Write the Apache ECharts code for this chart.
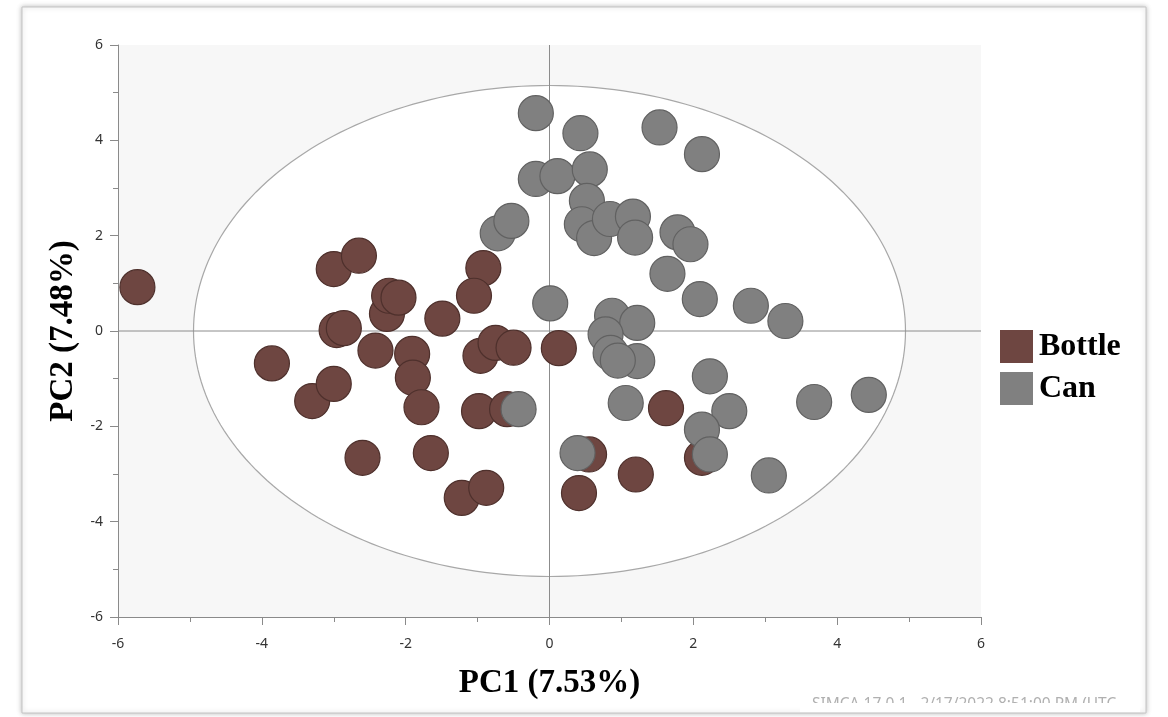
<!DOCTYPE html>
<html>
<head>
<meta charset="utf-8">
<title>PCA score plot – Bottle vs Can</title>
<script src="https://cdn.jsdelivr.net/npm/echarts@6/dist/echarts.min.js"></script>
<style>
  html, body { margin: 0; padding: 0; background: #ffffff; }
  #chart { width: 1168px; height: 717px; }
</style>
</head>
<body>
<div id="chart"></div>
<script>
// PCA scores (PC1, PC2) per sample group
const bottleX = [-5.73, -3.86, -3.30, -3.00, -3.00, -2.65, -2.96, -2.86, -2.60, -2.42, -2.26, -2.23, -2.10,
                 -1.91, -1.90, -1.78, -1.65, -1.49, -1.22, -0.92, -1.05, -0.88, -0.98, -0.59, -0.96, -0.75,
                 -0.50, 0.13, 0.55, 0.41, 1.62, 1.20, 2.12];
const bottleY = [0.92, -0.68, -1.47, -1.11, 1.30, 1.58, 0.02, 0.06, -2.66, -0.41, 0.36, 0.74, 0.70,
                 -0.48, -0.98, -1.60, -2.56, 0.26, -3.50, 1.32, 0.74, -3.29, -1.68, -1.64, -0.52, -0.25,
                 -0.35, -0.36, -2.59, -3.40, -1.62, -3.01, -2.66];

const canX = [-0.19, 0.43, 1.53, 2.12, -0.19, 0.11, 0.56, 0.52, -0.72, -0.53, 0.45, 0.62, 0.84, 1.16,
              1.19, 1.78, 1.96, 1.64, 2.09, 2.80, 3.28, 0.01, 0.87, 1.22, 0.78, 0.85, 1.22, 0.95,
              2.23, 1.06, 2.50, 2.12, 2.23, 3.05, 3.68, 4.44, 0.39, -0.43];
const canY = [4.57, 4.15, 4.27, 3.71, 3.19, 3.25, 3.39, 2.73, 2.05, 2.31, 2.24, 1.95, 2.35, 2.40,
              1.96, 2.07, 1.82, 1.20, 0.67, 0.53, 0.21, 0.58, 0.32, 0.17, -0.07, -0.46, -0.63, -0.62,
              -0.95, -1.51, -1.68, -2.07, -2.59, -3.03, -1.49, -1.34, -2.56, -1.64];

const groupNames = ['Bottle', 'Can'];
const axisTitles = ['PC1 (7.53%)', 'PC2 (7.48%)'];
// Hotelling T2 (95%) ellipse semi-axes in score units
const ellipseRadii = [4.95, 5.15];
const axisRange = [-6, 6];
const footerText = 'SIMCA 17.0.1 - 2/17/2022 8:51:00 PM (UTC-';

const zip = (xs, ys) => xs.map((x, i) => [x, ys[i]]);

const chart = echarts.init(document.getElementById('chart'), null, { renderer: 'canvas' });

const tickLabelStyle = { color: '#333333', fontSize: 14, fontFamily: 'Noto Sans, DejaVu Sans, sans-serif' };
const titleStyle = { color: '#000000', fontSize: 33, fontWeight: 'bold', fontFamily: 'Liberation Serif, Times New Roman, serif' };

function valueAxis(title, nameGap, labelMargin) {
  return {
    type: 'value',
    min: axisRange[0],
    max: axisRange[1],
    interval: 2,
    name: title,
    nameLocation: 'middle',
    nameGap: nameGap,
    nameTextStyle: titleStyle,
    axisLine: { show: true, onZero: false, lineStyle: { color: '#8a8a8a', width: 1 } },
    axisTick: { show: true, length: 8, lineStyle: { color: '#8a8a8a' } },
    minorTick: { show: true, splitNumber: 2, length: 5, lineStyle: { color: '#8a8a8a' } },
    axisLabel: Object.assign({ margin: labelMargin }, tickLabelStyle),
    splitLine: { show: false }
  };
}

// Confidence ellipse plus the two zero lines, drawn behind the scores
function renderBackdrop(params, api) {
  const pts = [];
  for (let k = 0; k < 240; k++) {
    const t = (k / 240) * Math.PI * 2;
    pts.push(api.coord([ellipseRadii[0] * Math.cos(t), ellipseRadii[1] * Math.sin(t)]));
  }
  const h0 = api.coord([axisRange[0], 0]), h1 = api.coord([axisRange[1], 0]);
  const v0 = api.coord([0, axisRange[0]]), v1 = api.coord([0, axisRange[1]]);
  return {
    type: 'group',
    children: [
      { type: 'polygon', shape: { points: pts }, style: { fill: '#ffffff', stroke: '#a8a8a8', lineWidth: 1.2 } },
      { type: 'line', shape: { x1: h0[0], y1: h0[1], x2: h1[0], y2: h1[1] }, style: { stroke: '#8c8c8c', lineWidth: 1 } },
      { type: 'line', shape: { x1: v0[0], y1: v0[1], x2: v1[0], y2: v1[1] }, style: { stroke: '#8c8c8c', lineWidth: 1 } }
    ]
  };
}

const option = {
  animation: false,
  backgroundColor: '#ffffff',
  grid: {
    left: 118, right: 187, top: 45, bottom: 100,
    show: true, backgroundColor: '#f7f7f7', borderWidth: 0
  },
  xAxis: valueAxis(axisTitles[0], 50, 20),
  yAxis: valueAxis(axisTitles[1], 33, 15),
  legend: {
    orient: 'vertical',
    left: 995, top: 325,
    itemWidth: 33, itemHeight: 33, itemGap: 9,
    icon: 'rect',
    itemStyle: { borderWidth: 0 },
    textStyle: { color: '#000000', fontSize: 32, fontWeight: 'bold', fontFamily: 'Liberation Serif, Times New Roman, serif', padding: [0, 0, 0, 1] },
    data: groupNames
  },
  graphic: [
    {
      type: 'rect', z: -10, silent: true,
      shape: { x: 22, y: 7, width: 1124, height: 706 },
      style: { fill: '#ffffff', stroke: '#c4c4c4', lineWidth: 1, shadowBlur: 5, shadowColor: 'rgba(0,0,0,0.25)' }
    },
    {
      type: 'text', left: 812, top: 697, z: 5, silent: true,
      style: { text: footerText, fill: '#b0b0b0', fontSize: 15.5, fontFamily: 'Noto Sans, DejaVu Sans, sans-serif' }
    },
    {
      type: 'rect', z: 6, silent: true,
      shape: { x: 800, y: 703, width: 340, height: 9 },
      style: { fill: '#ffffff' }
    }
  ],
  series: [
    {
      type: 'custom',
      silent: true,
      z: 1,
      renderItem: renderBackdrop,
      data: [[0, 0]],
      clip: true
    },
    {
      name: groupNames[0],
      type: 'scatter',
      z: 3,
      symbol: 'circle',
      symbolSize: 35,
      itemStyle: { color: '#6e4641', borderColor: '#4e302c', borderWidth: 1.2, opacity: 1 },
      data: zip(bottleX, bottleY)
    },
    {
      name: groupNames[1],
      type: 'scatter',
      z: 4,
      symbol: 'circle',
      symbolSize: 35,
      itemStyle: { color: '#808080', borderColor: '#616161', borderWidth: 1.2, opacity: 1 },
      data: zip(canX, canY)
    }
  ]
};

chart.setOption(option);
</script>
</body>
</html>
